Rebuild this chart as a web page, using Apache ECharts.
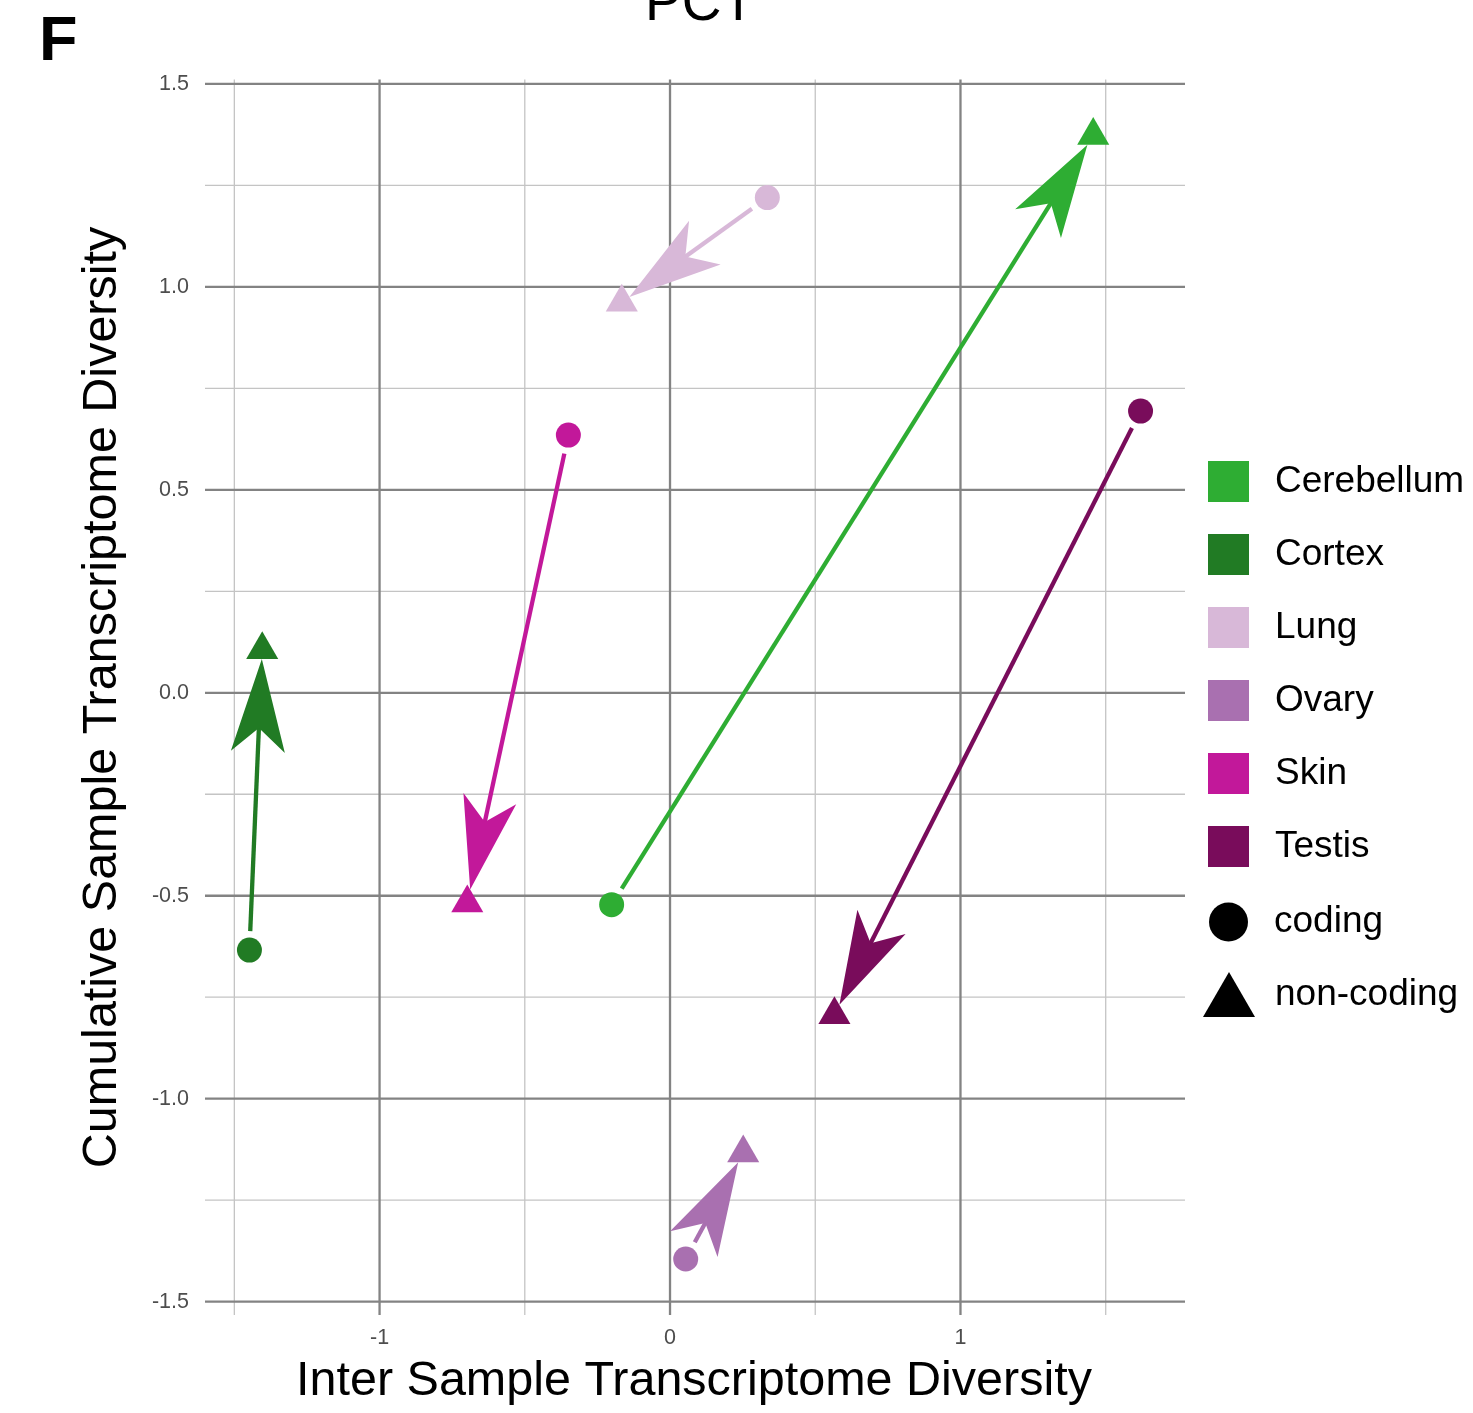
<!DOCTYPE html>
<html>
<head>
<meta charset="utf-8">
<title>PCT</title>
<script src="https://cdn.jsdelivr.net/npm/echarts@6/dist/echarts.min.js"></script>
<style>
  html, body { margin: 0; padding: 0; background: #ffffff; }
  #chart { width: 1473px; height: 1413px; }
</style>
</head>
<body>
<div id="chart"></div>
<script>
// Tissues and their colours
const tissues = ['Cerebellum', 'Cortex', 'Lung', 'Ovary', 'Skin', 'Testis'];
const tissueColors = ['#2EAD33', '#217B24', '#D8B8D8', '#A970B0', '#C2189A', '#790C5B'];

// Position of each tissue for coding genes (arrow start)
const codingX = [-0.201, -1.448, 0.335, 0.054, -0.350, 1.620];
const codingY = [-0.522, -0.634, 1.220, -1.395, 0.635, 0.694];

// Position of each tissue for non-coding genes (arrow end)
const nonCodingX = [1.457, -1.404, -0.166, 0.252, -0.698, 0.566];
const nonCodingY = [1.373, 0.106, 0.962, -1.134, -0.518, -0.793];

// Axis ranges and grid ticks
const xRange = [-1.601, 1.773];
const yRange = [-1.533, 1.511];
const xMajorTicks = [-1, 0, 1];
const xTickLabels = ['-1', '0', '1'];
const xMinorTicks = [-1.5, -0.5, 0.5, 1.5];
const yMajorTicks = [-1.5, -1.0, -0.5, 0.0, 0.5, 1.0, 1.5];
const yTickLabels = ['-1.5', '-1.0', '-0.5', '0.0', '0.5', '1.0', '1.5'];
const yMinorTicks = [-1.25, -0.75, -0.25, 0.25, 0.75, 1.25];

const FONT = "'Liberation Sans', Arial, Helvetica, sans-serif";

// Marker geometry (px)
const CIRCLE_SIZE = 25;
const TRI_R = 18.5;                       // centroid-to-apex distance
const TRI_W = TRI_R * Math.sqrt(3);       // triangle width
const TRI_H = TRI_R * 1.5;                // triangle height

// Arrow geometry (px)
const START_GAP = 19;
const HEAD_LEN = 93;
const HEAD_HALF_W = 27;
const HEAD_NOTCH = 69;
const SHAFT_W = 4.3;

const chart = echarts.init(document.getElementById('chart'), null, { renderer: 'canvas' });

function cross(ax, ay, bx, by) { return ax * by - ay * bx; }

// Where a ray leaving the triangle centroid c in direction u crosses the triangle outline
function triangleExit(c, u) {
  const verts = [
    [c[0], c[1] - TRI_R],
    [c[0] + TRI_W / 2, c[1] + TRI_R / 2],
    [c[0] - TRI_W / 2, c[1] + TRI_R / 2]
  ];
  let best = null;
  for (let k = 0; k < 3; k++) {
    const a = verts[k], b = verts[(k + 1) % 3];
    const dx = b[0] - a[0], dy = b[1] - a[1];
    const den = cross(u[0], u[1], dx, dy);
    if (Math.abs(den) < 1e-9) continue;
    const wx = a[0] - c[0], wy = a[1] - c[1];
    const t = cross(wx, wy, dx, dy) / den;
    const s = cross(wx, wy, u[0], u[1]) / den;
    if (t > 0 && s >= -1e-6 && s <= 1 + 1e-6 && (best === null || t < best)) best = t;
  }
  if (best === null) best = TRI_R / 2;
  return [c[0] + u[0] * best, c[1] + u[1] * best];
}

function renderArrow(params, api) {
  const s = api.coord([api.value(0), api.value(1)]);
  const e = api.coord([api.value(2), api.value(3)]);
  const color = api.visual('color');
  const len = Math.hypot(e[0] - s[0], e[1] - s[1]);
  const ux = (e[0] - s[0]) / len, uy = (e[1] - s[1]) / len;
  const start = [s[0] + ux * START_GAP, s[1] + uy * START_GAP];
  const tip = triangleExit(e, [-ux, -uy]);
  const l2 = Math.hypot(tip[0] - start[0], tip[1] - start[1]);
  const dx = (tip[0] - start[0]) / l2, dy = (tip[1] - start[1]) / l2;
  const nx = -dy, ny = dx;
  const back = [tip[0] - dx * HEAD_LEN, tip[1] - dy * HEAD_LEN];
  const wing1 = [back[0] + nx * HEAD_HALF_W, back[1] + ny * HEAD_HALF_W];
  const wing2 = [back[0] - nx * HEAD_HALF_W, back[1] - ny * HEAD_HALF_W];
  const notch = [tip[0] - dx * HEAD_NOTCH, tip[1] - dy * HEAD_NOTCH];
  const shaftEnd = [tip[0] - dx * (HEAD_NOTCH - 4), tip[1] - dy * (HEAD_NOTCH - 4)];
  return {
    type: 'group',
    children: [
      {
        type: 'line',
        shape: { x1: start[0], y1: start[1], x2: shaftEnd[0], y2: shaftEnd[1] },
        style: { stroke: color, lineWidth: SHAFT_W, lineCap: 'butt' }
      },
      {
        type: 'polygon',
        shape: { points: [tip, wing1, notch, wing2] },
        style: { fill: color, stroke: null }
      }
    ]
  };
}

// Panel grid lines and tick labels
function renderGrid(params, api) {
  const children = [];
  const minorStyle = { stroke: '#C4C4C4', lineWidth: 1.3 };
  const majorStyle = { stroke: '#838383', lineWidth: 2.3 };
  const vLine = (v, style) => {
    const a = api.coord([v, yRange[0]]), b = api.coord([v, yRange[1]]);
    children.push({ type: 'line', shape: { x1: a[0], y1: a[1], x2: b[0], y2: b[1] }, style: style });
  };
  const hLine = (v, style) => {
    const a = api.coord([xRange[0], v]), b = api.coord([xRange[1], v]);
    children.push({ type: 'line', shape: { x1: a[0], y1: a[1], x2: b[0], y2: b[1] }, style: style });
  };
  xMinorTicks.forEach(v => vLine(v, minorStyle));
  yMinorTicks.forEach(v => hLine(v, minorStyle));
  xMajorTicks.forEach(v => vLine(v, majorStyle));
  yMajorTicks.forEach(v => hLine(v, majorStyle));
  const bottom = api.coord([xRange[0], yRange[0]])[1];
  const left = api.coord([xRange[0], yRange[0]])[0];
  xMajorTicks.forEach((v, i) => {
    const p = api.coord([v, yRange[0]]);
    children.push({
      type: 'text',
      style: { text: xTickLabels[i], x: p[0], y: bottom + 23, align: 'center', verticalAlign: 'middle',
               font: '21.5px ' + FONT, fill: '#4D4D4D' }
    });
  });
  yMajorTicks.forEach((v, i) => {
    const p = api.coord([xRange[0], v]);
    children.push({
      type: 'text',
      style: { text: yTickLabels[i], x: left - 16, y: p[1], align: 'right', verticalAlign: 'middle',
               font: '21.5px ' + FONT, fill: '#4D4D4D' }
    });
  });
  return { type: 'group', children: children };
}

const arrowSeries = tissues.map((name, i) => ({
  name: name,
  type: 'custom',
  coordinateSystem: 'cartesian2d',
  renderItem: renderArrow,
  itemStyle: { color: tissueColors[i] },
  encode: { x: [0, 2], y: [1, 3] },
  data: [[codingX[i], codingY[i], nonCodingX[i], nonCodingY[i]]],
  clip: false,
  silent: true,
  z: 4
}));

const legendText = (pad) => ({
  fontSize: 37, color: '#000000', fontFamily: FONT, lineHeight: 41, padding: [0, 0, 0, pad]
});

const option = {
  backgroundColor: '#ffffff',
  animation: false,
  grid: { left: 205, top: 79.5, width: 980, height: 1235.5, containLabel: false },
  xAxis: {
    type: 'value', min: xRange[0], max: xRange[1],
    axisLine: { show: false }, axisTick: { show: false }, axisLabel: { show: false }, splitLine: { show: false }
  },
  yAxis: {
    type: 'value', min: yRange[0], max: yRange[1],
    axisLine: { show: false }, axisTick: { show: false }, axisLabel: { show: false }, splitLine: { show: false }
  },
  legend: [
    {
      data: tissues, orient: 'vertical', left: 1208, top: 461, padding: 0,
      icon: 'rect', itemWidth: 41, itemHeight: 41, itemGap: 32,
      selectedMode: false, textStyle: legendText(21)
    },
    {
      data: ['coding'], orient: 'vertical', left: 1209, top: 901.5, padding: 0,
      icon: 'circle', itemWidth: 39, itemHeight: 39,
      selectedMode: false, textStyle: legendText(21)
    },
    {
      data: ['non-coding'], orient: 'vertical', left: 1203, top: 972, padding: 0,
      icon: 'triangle', itemWidth: 52, itemHeight: 45,
      selectedMode: false, textStyle: legendText(15)
    }
  ],
  graphic: [
    {
      type: 'text', x: 700, y: 5,
      style: { text: 'PCT', font: '55px ' + FONT, fill: '#000000', align: 'center', verticalAlign: 'middle' }
    },
    {
      type: 'text', x: 39, y: 43,
      style: { text: 'F', font: 'bold 63px ' + FONT, fill: '#000000', align: 'left', verticalAlign: 'middle' }
    },
    {
      type: 'text', x: 694, y: 1382,
      style: { text: 'Inter Sample Transcriptome Diversity', font: '48.5px ' + FONT, fill: '#000000',
               align: 'center', verticalAlign: 'middle' }
    },
    {
      type: 'text', x: 103, y: 697.5, rotation: Math.PI / 2,
      style: { text: 'Cumulative Sample Transcriptome Diversity', font: '48.5px ' + FONT, fill: '#000000',
               align: 'center', verticalAlign: 'middle' }
    }
  ],
  series: [
    {
      name: 'grid',
      type: 'custom',
      coordinateSystem: 'cartesian2d',
      renderItem: renderGrid,
      data: [[0, 0]],
      clip: false,
      silent: true,
      z: 1
    },
    {
      name: 'coding',
      type: 'scatter',
      symbol: 'circle',
      symbolSize: CIRCLE_SIZE,
      itemStyle: { color: '#000000', opacity: 1 },
      data: codingX.map((x, i) => ({ value: [x, codingY[i]], itemStyle: { color: tissueColors[i] } })),
      silent: true,
      z: 3
    },
    {
      name: 'non-coding',
      type: 'scatter',
      symbol: 'triangle',
      symbolSize: [TRI_W, TRI_H],
      symbolOffset: [0, -TRI_H / 6],
      itemStyle: { color: '#000000', opacity: 1 },
      data: nonCodingX.map((x, i) => ({ value: [x, nonCodingY[i]], itemStyle: { color: tissueColors[i] } })),
      silent: true,
      z: 3
    }
  ].concat(arrowSeries)
};

chart.setOption(option);
</script>
</body>
</html>
